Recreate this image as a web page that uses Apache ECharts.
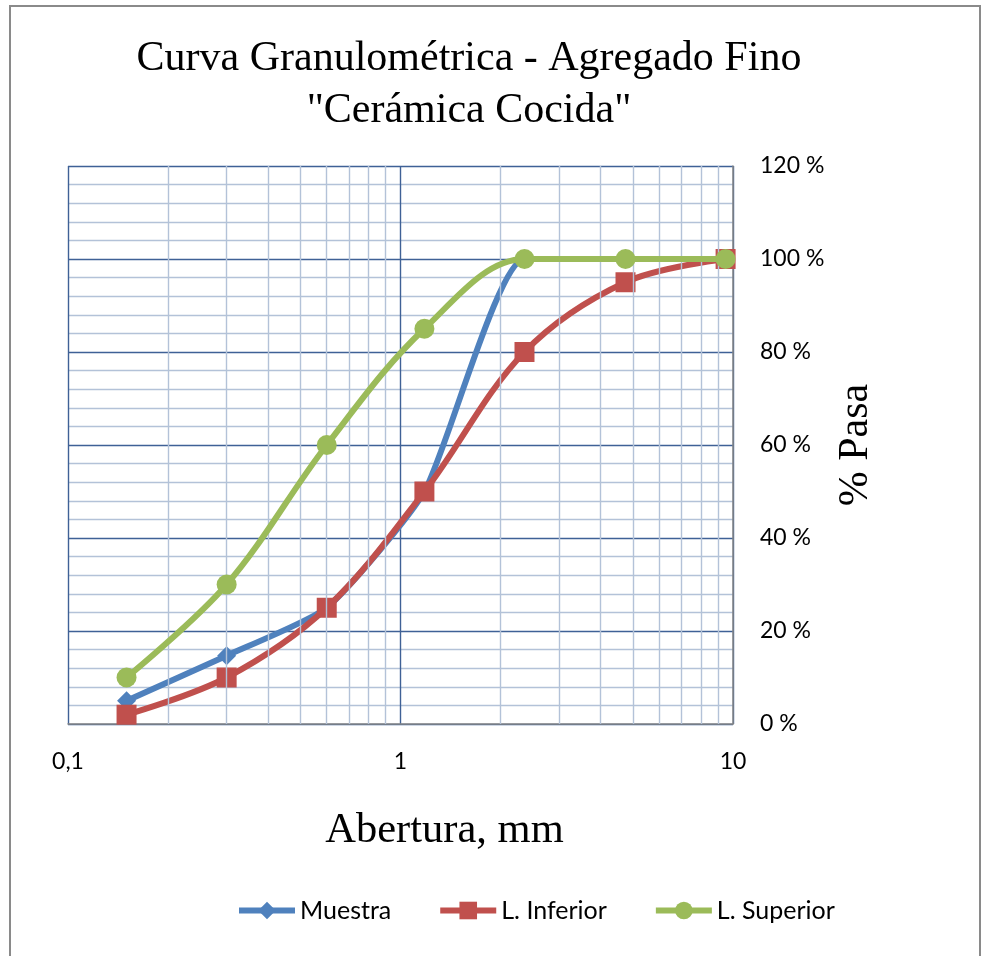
<!DOCTYPE html>
<html>
<head>
<meta charset="utf-8">
<script src="https://cdn.jsdelivr.net/npm/echarts@6/dist/echarts.min.js"></script>
<style>
html,body{margin:0;padding:0;background:#fff;}
#chart{width:982px;height:956px;}
</style>
</head>
<body>
<div id="chart"></div>
<script>
// Sieve openings (mm)
const aberturas = [0.15, 0.3, 0.6, 1.18, 2.36, 4.75, 9.5];
// % passing
const muestra = [5, 14.7, 25, 50, 100, 100, 100];
const limiteInferior = [2, 10, 25, 50, 80, 95, 100];
const limiteSuperior = [10, 30, 60, 85, 100, 100, 100];
// minor log gridline positions
const minorXTicks = [0.2, 0.3, 0.4, 0.5, 0.6, 0.7, 0.8, 0.9, 2, 3, 4, 5, 6, 7, 8, 9];
const seriesNames = ['Muestra', 'L. Inferior', 'L. Superior'];

const pair = (xs, ys) => xs.map((x, i) => [x, ys[i]]);

const chart = echarts.init(document.getElementById('chart'));
const labelFont = 'Lato';
const serif = '"Liberation Serif", "Times New Roman", serif';
const majorGrid = '#3F6196';
const minorGrid = '#B3C2D8';
const LW = 6;

chart.setOption({
  animation: false,
  backgroundColor: '#fff',
  title: {
    text: 'Curva Granulométrica - Agregado Fino\n"Cerámica Cocida"',
    left: 464,
    textAlign: 'center',
    top: 28,
    textStyle: {fontFamily: serif, fontSize: 42, fontWeight: 'normal', color: '#000', lineHeight: 52}
  },
  graphic: [{
    type: 'rect', silent: true, z: -1,
    shape: {x: 10, y: 6, width: 970, height: 980},
    style: {fill: 'none', stroke: '#8a8a8a', lineWidth: 2}
  }],
  legend: {
    data: seriesNames,
    left: 231,
    top: 893,
    itemWidth: 56,
    itemHeight: 22,
    itemGap: 46,
    lineStyle: {width: LW},
    textStyle: {fontFamily: labelFont, fontSize: 25, color: '#000'}
  },
  grid: {left: 68, right: 249, top: 166, bottom: 232, containLabel: false},
  xAxis: {
    type: 'log',
    logBase: 10,
    min: 0.1,
    max: 10,
    name: 'Abertura, mm',
    nameLocation: 'middle',
    nameGap: 85,
    nameTextStyle: {fontFamily: serif, fontSize: 42.5, color: '#000', padding: [0, 0, 0, 88]},
    axisLine: {show: true, lineStyle: {color: '#868686', width: 1.5}},
    axisTick: {show: false},
    axisLabel: {
      margin: 26,
      fontFamily: labelFont, fontSize: 23, color: '#000',
      formatter: v => String(v).replace('.', ',')
    },
    splitLine: {show: true, lineStyle: {color: majorGrid, width: 1.4}}
  },
  yAxis: {
    type: 'value',
    position: 'right',
    min: 0,
    max: 120,
    interval: 20,
    name: '% Pasa',
    nameLocation: 'middle',
    nameRotate: 90,
    nameGap: 93,
    nameTextStyle: {fontFamily: serif, fontSize: 42, color: '#000'},
    axisLine: {show: true, lineStyle: {color: '#868686', width: 1.5}},
    axisTick: {show: false},
    axisLabel: {margin: 27, fontFamily: labelFont, fontSize: 23, color: '#000', formatter: v => v + ' %'},
    splitLine: {show: true, lineStyle: {color: majorGrid, width: 1.4}},
    minorTick: {show: false, splitNumber: 5},
    minorSplitLine: {show: true, lineStyle: {color: minorGrid, width: 1.4}}
  },
  series: [
    {
      name: '_minorGrid',
      type: 'line',
      data: [],
      z: 1,
      silent: true,
      markLine: {
        silent: true,
        symbol: ['none', 'none'],
        label: {show: false},
        lineStyle: {color: minorGrid, width: 1.4, type: 'solid'},
        emphasis: {disabled: true},
        data: minorXTicks.map(v => ({xAxis: v}))
      }
    },
    {
      name: seriesNames[0], type: 'line', smooth: 0.18,
      data: pair(aberturas, muestra),
      symbol: 'diamond', symbolSize: 19,
      lineStyle: {color: '#4F81BD', width: LW},
      itemStyle: {color: '#4F81BD'},
      z: 3
    },
    {
      name: seriesNames[1], type: 'line', smooth: 0.35,
      data: pair(aberturas, limiteInferior),
      symbol: 'rect', symbolSize: 20,
      lineStyle: {color: '#C0504D', width: LW},
      itemStyle: {color: '#C0504D'},
      z: 4
    },
    {
      name: seriesNames[2], type: 'line', smooth: 0.35,
      data: pair(aberturas, limiteSuperior),
      symbol: 'circle', symbolSize: 20,
      lineStyle: {color: '#9BBB59', width: LW},
      itemStyle: {color: '#9BBB59'},
      z: 5
    }
  ]
});
</script>
</body>
</html>
